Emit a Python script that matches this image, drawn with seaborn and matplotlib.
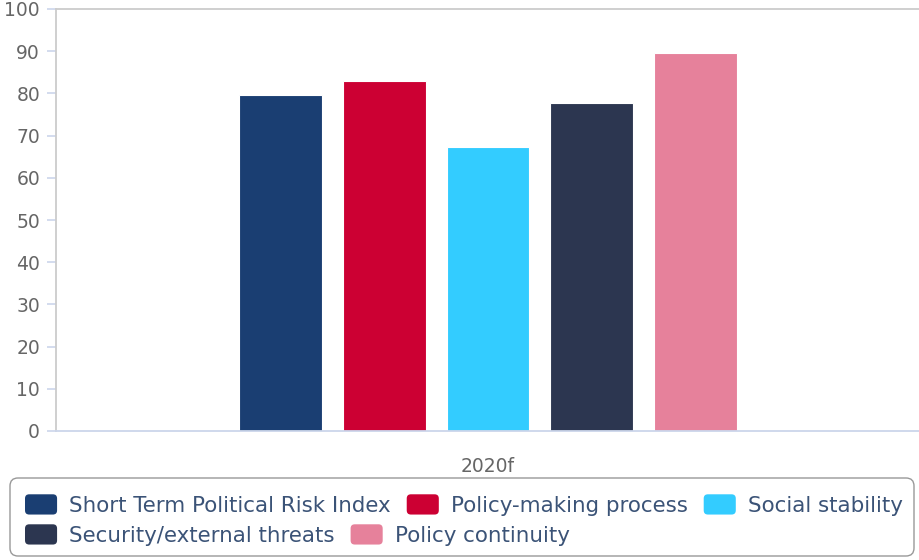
import matplotlib
matplotlib.use("Agg")
import matplotlib.pyplot as plt
from matplotlib.patches import FancyBboxPatch, Patch
from matplotlib.legend_handler import HandlerPatch
from matplotlib.transforms import IdentityTransform
import seaborn as sns
import pandas as pd

# Political risk components for the forecast year
year = ["2020f"]
components = [
    "Short Term Political Risk Index",
    "Policy-making process",
    "Social stability",
    "Security/external threats",
    "Policy continuity",
]
scores = [79.6, 82.9, 67.2, 77.8, 89.6]
colors = ["#1a3e72", "#cc0033", "#33ccff", "#2c3650", "#e6819b"]
yticks = [0, 10, 20, 30, 40, 50, 60, 70, 80, 90, 100]

df = pd.DataFrame({
    "year": year * len(components),
    "component": components,
    "score": scores,
})

sns.set_theme(style="white")
plt.rcParams["font.family"] = ["DejaVu Sans"]

fig = plt.figure(figsize=(9.2, 5.6), dpi=100)
ax = fig.add_axes([56 / 920, 1 - 431 / 560, 864 / 920, 422 / 560])

sns.barplot(
    data=df, x="year", y="score", hue="component",
    hue_order=components, palette=colors, saturation=1,
    width=0.6, gap=0.2, edgecolor="white", linewidth=0.8,
    legend=False, ax=ax,
)

ax.set_xlim(-0.5, 0.5)
ax.set_ylim(0, 100)
ax.set_yticks(yticks)
ax.set_xlabel("")
ax.set_ylabel("")

ax.tick_params(axis="y", left=True, length=6.5, width=1.2, color="#ccd6eb",
               pad=5, labelsize=13.5, labelcolor="#666666")
ax.tick_params(axis="x", bottom=False, length=0, pad=19,
               labelsize=13.5, labelcolor="#666666")

for side in ("left", "top"):
    ax.spines[side].set_color("#cccccc")
    ax.spines[side].set_linewidth(1.3)
ax.spines["bottom"].set_color("#ccd6eb")
ax.spines["bottom"].set_linewidth(1.3)
ax.spines["right"].set_visible(False)


class RoundedSwatch(HandlerPatch):
    def create_artists(self, legend, orig_handle, xdescent, ydescent,
                       width, height, fontsize, trans):
        p = FancyBboxPatch((-xdescent, -ydescent), width, height,
                           boxstyle="round,pad=0,rounding_size=3",
                           facecolor=orig_handle.get_facecolor(),
                           edgecolor="none", transform=trans)
        return [p]


handles = [Patch(facecolor=c, label=l) for c, l in zip(colors, components)]
leg_kw = dict(
    frameon=False, fontsize=15.4, labelcolor="#3b5377",
    handlelength=1.5, handleheight=1.08, handletextpad=0.56,
    columnspacing=0.75, borderpad=0, borderaxespad=0,
    loc="center left", bbox_transform=fig.transFigure,
    handler_map={Patch: RoundedSwatch()},
)
# first legend row is kept as a separate artist, second row becomes the axes legend
leg1 = ax.legend(handles=handles[:3], ncol=3,
                 bbox_to_anchor=(25 / 920, 1 - 505 / 560), **leg_kw)
fig.add_artist(leg1)
ax.legend(handles=handles[3:], ncol=2,
          bbox_to_anchor=(25 / 920, 1 - 535 / 560), **leg_kw)

# rounded frame around the two legend rows (pixel coordinates)
frame = FancyBboxPatch((10, 4), 904, 78,
                       boxstyle="round,pad=0,rounding_size=8",
                       facecolor="none", edgecolor="#999999", linewidth=1,
                       transform=IdentityTransform())
fig.add_artist(frame)

fig.savefig("out.png", dpi=100)
